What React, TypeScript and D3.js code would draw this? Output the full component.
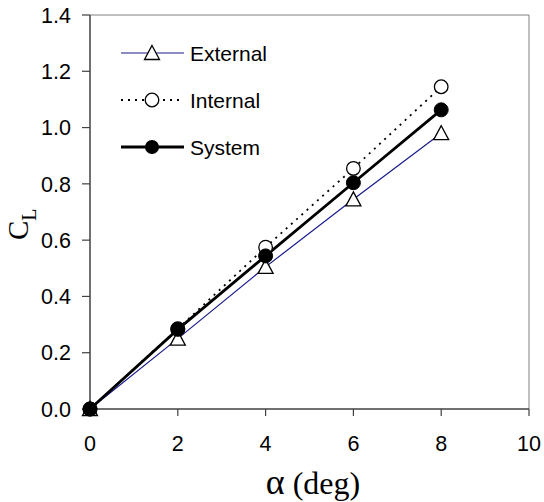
import React from "react";
import * as d3 from "d3";

const alphaDeg = [0, 2, 4, 6, 8];
const externalCL = [0, 0.25, 0.505, 0.745, 0.98];
const internalCL = [0, 0.285, 0.575, 0.855, 1.145];
const systemCL = [0, 0.283, 0.544, 0.804, 1.063];
const xTicks = [0, 2, 4, 6, 8, 10];
const yTicks = [0, 0.2, 0.4, 0.6, 0.8, 1.0, 1.2, 1.4];
const legendNames = ["External", "Internal", "System"];

export default function App() {
  const W = 544, H = 502;
  const left = 90, right = 529, top = 15, bottom = 409;
  const x = d3.scaleLinear().domain([0, 10]).range([left, right]);
  const y = d3.scaleLinear().domain([0, 1.4]).range([bottom, top]);
  const line = d3.line<number>().x((_, i) => x(alphaDeg[i])).y((d) => y(d));
  const font = "Arial, 'Liberation Sans', sans-serif";
  const serif = "'Times New Roman', 'Liberation Serif', serif";
  const tri = (cx: number, cy: number) =>
    `M${cx},${cy - 7.5} L${cx + 7.5},${cy + 6.5} L${cx - 7.5},${cy + 6.5} Z`;
  const legendY = [53, 100, 147];

  return (
    <svg width={W} height={H} style={{ position: "absolute", left: 0, top: 0 }}>
      <rect width={W} height={H} fill="#fff" />
      {/* frame */}
      <line x1={left} x2={right} y1={top} y2={top} stroke="#808080" strokeWidth={1} />
      <line x1={right} x2={right} y1={top} y2={bottom} stroke="#808080" strokeWidth={1} />
      {/* axes */}
      <line x1={left} x2={left} y1={top} y2={bottom} stroke="#404040" strokeWidth={1.5} />
      <line x1={left} x2={right} y1={bottom} y2={bottom} stroke="#404040" strokeWidth={1.5} />
      {yTicks.map((t) => (
        <g key={"y" + t}>
          <line x1={left - 8} x2={left} y1={y(t)} y2={y(t)} stroke="#404040" strokeWidth={1.2} />
          <text x={71} y={y(t)} dy="0.36em" textAnchor="end" fontFamily={font} fontSize={21.5} fill="#000">
            {t.toFixed(1)}
          </text>
        </g>
      ))}
      {xTicks.map((t) => (
        <g key={"x" + t}>
          <line x1={x(t)} x2={x(t)} y1={bottom} y2={bottom + 7} stroke="#404040" strokeWidth={1.2} />
          <text x={x(t)} y={451} textAnchor="middle" fontFamily={font} fontSize={21.5} fill="#000">
            {t}
          </text>
        </g>
      ))}
      {/* axis titles */}
      <text x={313} y={494} textAnchor="middle" fontFamily={serif} fontSize={32} fill="#000">
        <tspan fontSize={36}>α</tspan> (deg)
      </text>
      <text transform="translate(28,240) rotate(-90)" fontFamily={serif} fontSize={29} fill="#000">
        C<tspan fontSize={20} dy={8}>L</tspan>
      </text>

      {/* series */}
      <path d={line(externalCL) || ""} fill="none" stroke="#1a1a8c" strokeWidth={1.2} />
      <path d={line(internalCL) || ""} fill="none" stroke="#000" strokeWidth={1.8} strokeDasharray="2,5" />
      <path d={line(systemCL) || ""} fill="none" stroke="#000" strokeWidth={2.8} />
      {externalCL.map((v, i) => (
        <path key={"e" + i} d={tri(x(alphaDeg[i]), y(v))} fill="#fff" stroke="#000" strokeWidth={1.3} />
      ))}
      {internalCL.map((v, i) => (
        <circle key={"i" + i} cx={x(alphaDeg[i])} cy={y(v)} r={6.8} fill="#fff" stroke="#000" strokeWidth={1.3} />
      ))}
      {systemCL.map((v, i) => (
        <circle key={"s" + i} cx={x(alphaDeg[i])} cy={y(v)} r={7} fill="#000" stroke="#000" strokeWidth={1} />
      ))}

      {/* legend */}
      <line x1={121} x2={184} y1={legendY[0]} y2={legendY[0]} stroke="#1a1a8c" strokeWidth={1.2} />
      <path d={tri(152, legendY[0])} fill="#fff" stroke="#000" strokeWidth={1.3} />
      <line x1={121} x2={184} y1={legendY[1]} y2={legendY[1]} stroke="#000" strokeWidth={1.8} strokeDasharray="2,5" />
      <circle cx={152} cy={legendY[1]} r={6.8} fill="#fff" stroke="#000" strokeWidth={1.3} />
      <line x1={121} x2={184} y1={legendY[2]} y2={legendY[2]} stroke="#000" strokeWidth={2.8} />
      <circle cx={152} cy={legendY[2]} r={7} fill="#000" />
      {legendNames.map((n, i) => (
        <text key={n} x={190} y={legendY[i]} dy="0.36em" fontFamily={font} fontSize={21} fill="#000">
          {n}
        </text>
      ))}
    </svg>
  );
}
